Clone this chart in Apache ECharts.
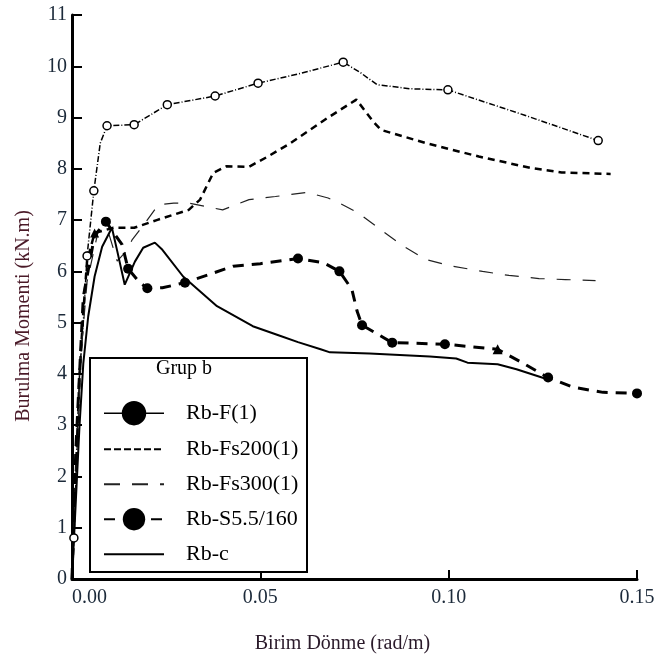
<!DOCTYPE html>
<html>
<head>
<meta charset="UTF-8" />
<title>Grup b</title>
<script type="text/javascript" src="https://cdnjs.cloudflare.com/ajax/libs/echarts/6.0.0/echarts.min.js"></script>
<style>html, body { margin: 0; padding: 0; background: #fff; }</style>
</head>
<body>
<div id="main" style="width: 660px; height: 659px;"></div>
<script>
// series names, as in the legend
var seriesNames = ['Rb-F(1)', 'Rb-Fs200(1)', 'Rb-Fs300(1)', 'Rb-S5.5/160', 'Rb-c'];

// [Birim Dönme (rad/m), Burulma Momenti (kN.m)]
var rbF = [[0, 0], [0.0005, 0.8], [0.001, 1.8], [0.0015, 3.0], [0.002, 4.0], [0.003, 5.0],
    [0.004, 6.3], [0.0058, 7.57], [0.0075, 8.5], [0.0093, 8.84], [0.0165, 8.86], [0.0253, 9.25],
    [0.038, 9.42], [0.0494, 9.67], [0.06, 9.85], [0.072, 10.08], [0.0765, 9.88], [0.081, 9.64],
    [0.09, 9.56], [0.0998, 9.54], [0.12, 9.05], [0.1397, 8.55]];
var rbFMarks = [1, 6, 7, 9, 10, 11, 12, 13, 15, 19, 21];

var rbFs200 = [[0, 0], [0.001, 2.0], [0.002, 4.0], [0.003, 5.2], [0.004, 6.2], [0.006, 6.75],
    [0.011, 6.85], [0.0165, 6.85], [0.0225, 7.0], [0.031, 7.2], [0.034, 7.4], [0.0375, 7.92],
    [0.041, 8.05], [0.047, 8.04], [0.052, 8.24], [0.058, 8.5], [0.068, 9.0], [0.0755, 9.35],
    [0.08, 8.92], [0.082, 8.76], [0.094, 8.5], [0.108, 8.24], [0.1216, 8.02], [0.13, 7.93],
    [0.143, 7.9]];
var rbFs200Triangles = [5];

var rbFs300 = [[0, 0], [0.001, 2.0], [0.0025, 4.5], [0.004, 5.8], [0.007, 6.8], [0.0095, 6.8],
    [0.012, 6.2], [0.0145, 6.4], [0.016, 6.62], [0.019, 6.9], [0.0229, 7.3], [0.027, 7.33],
    [0.031, 7.33], [0.04, 7.2], [0.047, 7.4], [0.054, 7.46], [0.0624, 7.54], [0.068, 7.43],
    [0.07, 7.37], [0.076, 7.14], [0.082, 6.81], [0.088, 6.49], [0.094, 6.23], [0.101, 6.1],
    [0.109, 6.0], [0.116, 5.92], [0.124, 5.86], [0.131, 5.84], [0.139, 5.82]];

var rbS = [[0, 0], [0.001, 2.5], [0.003, 5.5], [0.006, 6.7], [0.009, 6.97], [0.0133, 6.52],
    [0.0149, 6.05], [0.018, 5.78], [0.02, 5.67], [0.024, 5.68], [0.03, 5.78], [0.0428, 6.1],
    [0.05, 6.15], [0.06, 6.25], [0.0667, 6.17], [0.071, 6.0], [0.0743, 5.65], [0.0757, 5.22],
    [0.077, 4.95], [0.085, 4.61], [0.099, 4.58], [0.113, 4.48], [0.119, 4.24], [0.1264, 3.93],
    [0.133, 3.74], [0.141, 3.64], [0.15, 3.62]];
var rbSMarks = [4, 6, 8, 10, 13, 15, 18, 19, 20, 23, 26];
var rbSTriangles = [21];

var rbC = [[0, 0], [0.001, 1.5], [0.002, 3.0], [0.003, 4.2], [0.0043, 5.12], [0.006, 5.9],
    [0.008, 6.48], [0.0106, 6.85], [0.012, 6.4], [0.014, 5.74], [0.0167, 6.19], [0.0189, 6.46],
    [0.022, 6.56], [0.024, 6.42], [0.0295, 5.9], [0.0385, 5.32], [0.048, 4.93], [0.055, 4.75],
    [0.06, 4.62], [0.066, 4.48], [0.0685, 4.42], [0.079, 4.4], [0.095, 4.34], [0.102, 4.3],
    [0.105, 4.22], [0.113, 4.19], [0.118, 4.09], [0.126, 3.9]];

var serif = '"Liberation Serif", "DejaVu Serif", serif';

function buildData(points, circles, triangles) {
    circles = circles || [];
    triangles = triangles || [];
    return points.map(function (p, i) {
        if (circles.indexOf(i) >= 0) return { value: p, symbol: 'circle' };
        if (triangles.indexOf(i) >= 0) return { value: p, symbol: 'triangle' };
        return { value: p, symbol: 'none' };
    });
}

var mychart = echarts.init(document.getElementById('main'));

var option = {
    animation: false,
    backgroundColor: '#fff',
    grid: { left: 72, right: 23, top: 15, bottom: 79 },
    xAxis: {
        type: 'value',
        min: 0, max: 0.15, interval: 0.05,
        name: 'Birim Dönme (rad/m)',
        nameLocation: 'middle',
        nameGap: 55,
        nameTextStyle: { fontFamily: serif, fontSize: 20, color: '#2a1a2a', padding: [0, 24, 0, 0] },
        axisLine: { onZero: false, lineStyle: { color: '#000', width: 3 } },
        axisTick: { inside: true, length: 9, lineStyle: { color: '#000', width: 2 } },
        axisLabel: {
            fontFamily: serif, fontSize: 20, color: '#1c2a3a', margin: 9,
            alignMinLabel: 'left',
            formatter: function (v) { return v.toFixed(2); }
        },
        splitLine: { show: false }
    },
    yAxis: {
        type: 'value',
        min: 0, max: 11, interval: 1,
        name: 'Burulma Momenti (kN.m)',
        nameLocation: 'middle',
        nameRotate: 90,
        nameGap: 38,
        nameTextStyle: { fontFamily: serif, fontSize: 20, color: '#4a1a28', padding: [0, 38, 0, 0] },
        axisLine: { onZero: false, lineStyle: { color: '#000', width: 3 } },
        axisTick: { inside: true, length: 10, lineStyle: { color: '#000', width: 2 } },
        axisLabel: { fontFamily: serif, fontSize: 20, color: '#1c2a3a', margin: 5 },
        splitLine: { show: false }
    },
    legend: {
        orient: 'vertical',
        left: 103,
        top: 401,
        padding: 0,
        itemWidth: 60,
        itemHeight: 28,
        itemGap: 12.6,
        textStyle: { fontFamily: serif, fontSize: 22, color: '#000', padding: [0, 0, 0, 17] },
        data: [
            { name: seriesNames[0], itemStyle: { color: '#000', borderColor: '#000' }, lineStyle: { type: 'solid', width: 1.5 } },
            { name: seriesNames[1], itemStyle: { opacity: 0 }, lineStyle: { type: [7, 3] } },
            { name: seriesNames[2], itemStyle: { opacity: 0 }, lineStyle: { type: [16, 12] } },
            { name: seriesNames[3], lineStyle: { type: [11, 36] } },
            { name: seriesNames[4], itemStyle: { opacity: 0 } }
        ]
    },
    graphic: [
        {
            type: 'rect', z: 3,
            shape: { x: 90, y: 358, width: 217, height: 214 },
            style: { fill: '#fff', stroke: '#000', lineWidth: 2 }
        },
        {
            type: 'text', z: 5, x: 184, y: 369,
            style: { text: 'Grup b', font: '20px ' + serif, fill: '#000', align: 'center', verticalAlign: 'middle' }
        }
    ],
    series: [
        {
            name: seriesNames[0], type: 'line',
            data: buildData(rbF, rbFMarks),
            symbol: 'circle', symbolSize: 8, showAllSymbol: true,
            itemStyle: { color: '#fff', borderColor: '#000', borderWidth: 1.5 },
            lineStyle: { color: '#000', width: 1.5, type: [6, 2, 1, 2] }
        },
        {
            name: seriesNames[1], type: 'line',
            data: buildData(rbFs200, [], rbFs200Triangles),
            symbol: 'none', symbolSize: 9, showAllSymbol: true,
            itemStyle: { color: '#000' },
            lineStyle: { color: '#000', width: 2.5, type: [7, 5] }
        },
        {
            name: seriesNames[2], type: 'line',
            data: buildData(rbFs300),
            symbol: 'none',
            itemStyle: { color: '#222' },
            lineStyle: { color: '#222', width: 1.2, type: [14, 12] }
        },
        {
            name: seriesNames[3], type: 'line',
            data: buildData(rbS, rbSMarks, rbSTriangles),
            symbol: 'circle', symbolSize: 10, showAllSymbol: true,
            itemStyle: { color: '#000' },
            lineStyle: { color: '#000', width: 3, type: [11, 8] }
        },
        {
            name: seriesNames[4], type: 'line',
            data: buildData(rbC),
            symbol: 'none',
            itemStyle: { color: '#000' },
            lineStyle: { color: '#000', width: 2 }
        }
    ]
};

mychart.setOption(option);
</script>
</body>
</html>
